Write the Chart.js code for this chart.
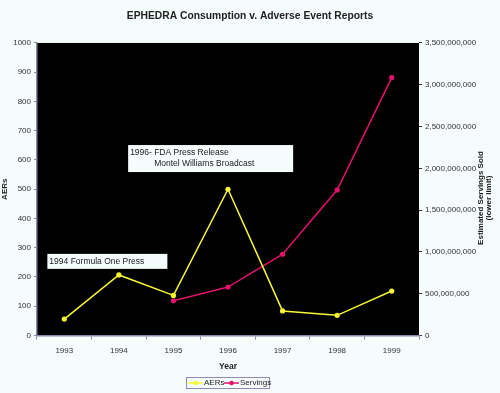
<!DOCTYPE html>
<html>
<head>
<meta charset="utf-8">
<script src="https://cdn.jsdelivr.net/npm/chart.js@4"></script>
<style>
  html, body { margin: 0; padding: 0; background: #f4fcfc; }
  #wrap { width: 500px; height: 393px; }
</style>
</head>
<body>
<div id="wrap"><canvas id="chart"></canvas></div>
<script>
// Daten
const jahre = ['1993', '1994', '1995', '1996', '1997', '1998', '1999'];
const aers = [56, 207, 137, 500, 84, 69, 152];
const servings = [null, null, 416000000, 580000000, 972000000, 1741000000, 3085000000];
const serienNamen = ['AERs', 'Servings'];
const aerTicks = [0, 100, 200, 300, 400, 500, 600, 700, 800, 900, 1000];
const servingTicks = [0, 500000000, 1000000000, 1500000000, 2000000000, 2500000000, 3000000000, 3500000000];

// Beschriftungen im Diagramm (Ankerpunkt in Datenkoordinaten)
const hinweise = [
  { x: -0.31, y: 279, w: 120, h: 15, zeilen: [['1994 Formula One Press', 2, 0]] },
  { x: 1.17, y: 651, w: 165, h: 27, zeilen: [['1996-', 2, 0], ['FDA Press Release', 26, 0], ['Montel Williams Broadcast', 26, 1]] }
];

const gelb = '#f6f636';
const pink = '#e2126c';
const hg = '#f4fcfc';
const achse = '#8a86aa';
const schrift = '"Liberation Sans", Arial, sans-serif';

const extras = {
  id: 'extras',
  beforeDraw(chart) {
    const { ctx, chartArea: a } = chart;
    ctx.save();
    ctx.fillStyle = hg;
    ctx.fillRect(0, 0, chart.width, chart.height);
    ctx.fillStyle = '#000';
    ctx.fillRect(a.left, a.top, a.right - a.left, a.bottom - a.top);
    ctx.restore();
  },
  afterDraw(chart) {
    const { ctx } = chart;
    const xs = chart.scales.x, ys = chart.scales.y;
    ctx.save();

    // Textkästen
    hinweise.forEach(h => {
      const px = xs.getPixelForValue(h.x);
      const py = ys.getPixelForValue(h.y);
      ctx.fillStyle = hg;
      ctx.fillRect(px, py, h.w, h.h);
      ctx.fillStyle = '#1a1a1a';
      ctx.font = '8.5px ' + schrift;
      ctx.textBaseline = 'middle';
      ctx.textAlign = 'left';
      h.zeilen.forEach(([t, dx, zeile]) => {
        ctx.fillText(t, px + dx, py + 7.5 + zeile * 11.5);
      });
    });

    // rechte Achsenbeschriftung (von unten nach oben)
    ctx.fillStyle = '#1a1a1a';
    ctx.font = 'bold 8px ' + schrift;
    ctx.textAlign = 'center';
    ctx.textBaseline = 'middle';
    [['Estimated Servings Sold', 481], ['(lower limit)', 489]].forEach(([t, x]) => {
      ctx.save();
      ctx.translate(x, 198);
      ctx.rotate(-Math.PI / 2);
      ctx.fillText(t, 0, 0);
      ctx.restore();
    });

    // Legende
    const lx = 186, ly = 377, lw = 83, lh = 11;
    ctx.strokeStyle = '#9088c0';
    ctx.lineWidth = 1;
    ctx.strokeRect(lx + 0.5, ly + 0.5, lw, lh);
    const items = [[serienNamen[0], gelb, 188], [serienNamen[1], pink, 224]];
    ctx.font = '8px ' + schrift;
    ctx.textAlign = 'left';
    items.forEach(([t, c, x]) => {
      const cy = ly + 6;
      ctx.strokeStyle = c;
      ctx.lineWidth = 1.5;
      ctx.beginPath();
      ctx.moveTo(x, cy);
      ctx.lineTo(x + 15, cy);
      ctx.stroke();
      ctx.fillStyle = c;
      ctx.beginPath();
      ctx.arc(x + 7.5, cy, 2.3, 0, Math.PI * 2);
      ctx.fill();
      ctx.fillStyle = '#1a1a1a';
      ctx.fillText(t, x + 16, cy);
    });
    ctx.restore();
  }
};

const tickFont = { family: schrift, size: 8 };

new Chart(document.getElementById('chart'), {
  type: 'line',
  data: {
    labels: jahre,
    datasets: [
      {
        label: serienNamen[0],
        data: aers,
        yAxisID: 'y',
        borderColor: gelb,
        backgroundColor: gelb,
        borderWidth: 1.5,
        pointRadius: 2.6,
        pointBorderWidth: 0,
        tension: 0
      },
      {
        label: serienNamen[1],
        data: servings,
        yAxisID: 'y1',
        borderColor: pink,
        backgroundColor: pink,
        borderWidth: 1.5,
        pointRadius: 2.6,
        pointBorderWidth: 0,
        tension: 0
      }
    ]
  },
  options: {
    responsive: true,
    maintainAspectRatio: false,
    animation: false,
    layout: { padding: { left: 0, right: 0, top: 0, bottom: 21 } },
    plugins: {
      legend: { display: false },
      tooltip: { enabled: false },
      title: {
        display: true,
        text: 'EPHEDRA Consumption v. Adverse Event Reports',
        color: '#222',
        font: { family: schrift, size: 10.3, weight: 'bold' },
        padding: { top: 9.5, bottom: 21.1 }
      }
    },
    scales: {
      x: {
        offset: true,
        grid: { offset: true, drawOnChartArea: false, tickLength: 4, color: achse },
        border: { color: achse, width: 1.5 },
        ticks: { color: '#333', font: tickFont, padding: 6, maxRotation: 0 },
        title: {
          display: true, text: 'Year', color: '#222',
          font: { family: schrift, size: 8.5, weight: 'bold' },
          padding: { top: 0, bottom: 0 }
        },
        afterFit(s) { s.height = 36.5; }
      },
      y: {
        position: 'left',
        min: 0, max: 1000,
        afterBuildTicks(s) { s.ticks = aerTicks.map(v => ({ value: v })); },
        grid: { drawOnChartArea: false, tickLength: 3, color: achse },
        border: { color: achse, width: 1.5 },
        ticks: { color: '#333', font: tickFont, padding: 3, callback: v => String(v) },
        title: {
          display: true, text: 'AERs', color: '#222',
          font: { family: schrift, size: 8, weight: 'bold' },
          padding: { top: 0, bottom: 0 }
        },
        afterFit(s) { s.width = 37; }
      },
      y1: {
        position: 'right',
        min: 0, max: 3500000000,
        afterBuildTicks(s) { s.ticks = servingTicks.map(v => ({ value: v })); },
        grid: { drawOnChartArea: false, tickLength: 3, color: '#333' },
        border: { display: false },
        ticks: {
          color: '#333', font: tickFont, padding: 3,
          callback: v => v.toLocaleString('en-US')
        },
        afterFit(s) { s.width = 81; }
      }
    }
  },
  plugins: [extras]
});
</script>
</body>
</html>
